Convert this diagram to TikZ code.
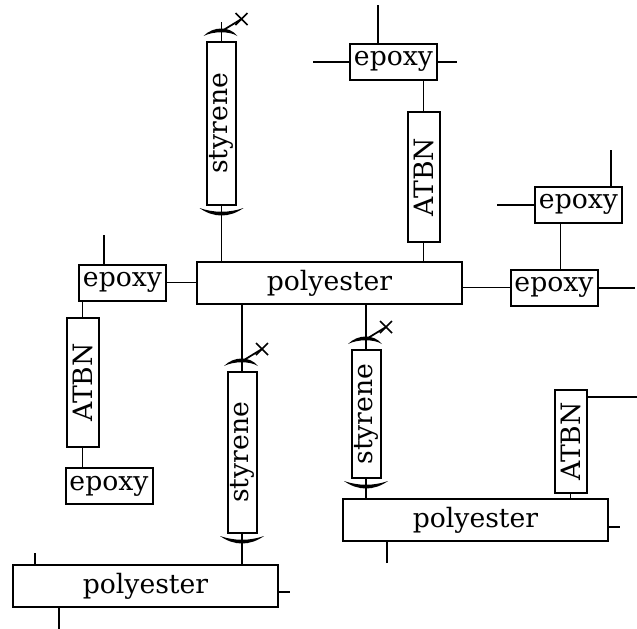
\documentclass[tikz,border=0pt]{standalone}
\usepackage{fontspec}
\setmainfont{DejaVu Serif}
\usetikzlibrary{positioning}

\tikzset{
  link/.style={line width=1.3pt},
  unit/.style={draw, line width=1.5pt, inner sep=0pt, font=\fontsize{20}{23}\selectfont},
  polybox/.style={unit, minimum width=198.75pt, minimum height=31.5pt},
  epoxybox/.style={unit, minimum width=65.25pt, minimum height=27pt},
  rubberbox/.style={unit, rotate=90, minimum height=24pt},
  styrbox/.style={unit, rotate=90, minimum height=21.75pt},
  topcap/.pic={
    \draw[link] (0,0) -- (0,-19);
    \fill (-18,-5) .. controls (-8,-15) and (8,-15) .. (16,-5) .. controls (8,-10) and (-8,-10) .. cycle;
    \draw[link] (2,-11) -- (20,-22);
    \draw[link] (14,-28) -- (26,-16) (14,-16) -- (26,-28);
  },
  botcap/.pic={
    \fill (-22,2) .. controls (-8,12) and (8,12) .. (22,2) .. controls (8,7) and (-8,7) .. cycle;
  }
}

\begin{document}
\begin{tikzpicture}[x=0.75pt, y=-0.75pt]
  \useasboundingbox[fill=white] (0,0) rectangle (637,629);

  % resin and rubber blocks
  \foreach \name/\x/\y in {poly1/329.5/283, poly2/475.5/520, poly3/145.5/586}
    \node[polybox] (\name) at (\x,\y) {polyester};
  \foreach \name/\x/\y in {epL/122.5/282.5, epLb/109/486, epT/393.5/61.5, epRa/578.5/204.5, epRb/554/287.5}
    \node[epoxybox] (\name) at (\x,\y) {epoxy};
  \foreach \name/\x/\y/\len in {atL/82.5/382.5/96.75pt, atT/423.5/177/97.5pt, atR/570.5/441.5/77.25pt}
    \node[rubberbox, minimum width=\len] (\name) at (\x,\y) {ATBN};
  \foreach \name/\x/\y/\len in {stA/221.5/123.5/122.25pt, stB/366/414/96pt, stC/242/452.5/120.75pt}
    \node[styrbox, minimum width=\len] (\name) at (\x,\y) {styrene};

  % styrene end groups
  \foreach \name in {stA, stB, stC} {
    \pic at (\name.east) {topcap};
    \pic at (\name.west) {botcap};
  }

  % free ends
  \coordinate (epTu) at (378,5);
  \coordinate (epTl) at (313,62);
  \coordinate (epTr) at (457,62);
  \coordinate (epLu) at (104,235);
  \coordinate (epRau) at (611,150);
  \coordinate (epRal) at (497,205);
  \coordinate (epRbr) at (635,288);
  \coordinate (atRr) at (637,397);
  \coordinate (poly2r) at (620,527);
  \coordinate (poly2d) at (387,563);
  \coordinate (poly3u) at (35,553);
  \coordinate (poly3r) at (290,592);
  \coordinate (poly3d) at (59,629);

  % bonds
  \draw[link] (stA.west) -- (stA.west |- poly1.north);
  \draw[link] (atT.east) -- (atT.east |- epT.south);
  \draw[link] (atT.west) -- (atT.west |- poly1.north);
  \draw[link] (epTu) -- (epTu |- epT.north);
  \draw[link] (epTl) -- (epTl -| epT.west);
  \draw[link] (epT.east |- epTr) -- (epTr);
  \draw[link] (epL.east) -- (poly1.west |- epL.east);
  \draw[link] (epLu) -- (epLu |- epL.north);
  \draw[link] (atL.east) -- (atL.east |- epL.south);
  \draw[link] (atL.west) -- (atL.west |- epLb.north);
  \draw[link] (epRau) -- (epRau |- epRa.north);
  \draw[link] (epRal) -- (epRal -| epRa.west);
  \draw[link] ([xshift=-13.5pt]epRa.south) -- ([xshift=-13.5pt]epRa.south |- epRb.north);
  \draw[link] (poly1.east |- epRb.west) -- (epRb.west);
  \draw[link] (epRb.east |- epRbr) -- (epRbr);
  \draw[link] (stB.east) -- (stB.east |- poly1.south);
  \draw[link] (stC.east) -- (stC.east |- poly1.south);
  \draw[link] (stB.west) -- (stB.west |- poly2.north);
  \draw[link] (stC.west) -- (stC.west |- poly3.north);
  \draw[link] (atR.west) -- (atR.west |- poly2.north);
  \draw[link] (atRr -| atR.south) -- (atRr);
  \draw[link] (poly2.east |- poly2r) -- (poly2r);
  \draw[link] (poly2d) -- (poly2d |- poly2.south);
  \draw[link] (poly3u) -- (poly3u |- poly3.north);
  \draw[link] (poly3.east |- poly3r) -- (poly3r);
  \draw[link] (poly3d) -- (poly3d |- poly3.south);
\end{tikzpicture}
\end{document}
